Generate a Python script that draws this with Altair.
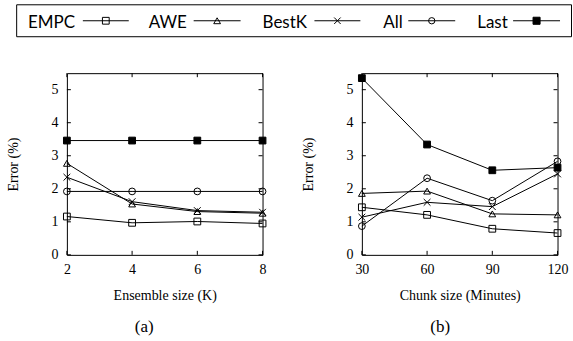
import altair as alt
import pandas as pd

# ---------------- data ----------------
series_names = ["EMPC", "AWE", "BestK", "All", "Last"]

ensemble_k = [2, 4, 6, 8]
err_a_empc = [1.16, 0.97, 1.01, 0.95]
err_a_awe = [2.77, 1.54, 1.31, 1.26]
err_a_bestk = [2.35, 1.61, 1.34, 1.29]
err_a_all = [1.92, 1.92, 1.92, 1.92]
err_a_last = [3.46, 3.46, 3.46, 3.46]

chunk_min = [30, 60, 90, 120]
err_b_empc = [1.44, 1.21, 0.79, 0.66]
err_b_awe = [1.86, 1.93, 1.24, 1.21]
err_b_bestk = [1.14, 1.59, 1.46, 2.45]
err_b_all = [0.87, 2.32, 1.64, 2.83]
err_b_last = [5.35, 3.34, 2.56, 2.64]

y_ticks = [0, 1, 2, 3, 4, 5]

# ---------------- styling ----------------
SERIF = "Liberation Serif"
SANS = "Lato"
X_PATH = "M-1,-1L1,1M-1,1L1,-1"
shapes = ["square", "triangle-up", X_PATH, "circle", "square"]
fills = ["transparent", "transparent", "transparent", "transparent", "black"]
sizes = [46, 46, 42, 40, 50]

W_A, W_B, H = 196, 196, 182
ORIGIN_A = (66, 72.5)  # absolute position of panel (a) plot area


def long_df(xs, cols):
    rows = []
    for name, vals in zip(series_names, cols):
        for x, v in zip(xs, vals):
            rows.append({"x": x, "err": v, "series": name})
    return pd.DataFrame(rows)


def one_row():
    return alt.Data(values=[{"k": 0}])


def panel(xs, cols, x_title, letter, width, letter_x, extra=None):
    df = long_df(xs, cols)
    xenc = alt.X(
        "x:Q",
        scale=alt.Scale(domain=[xs[0], xs[-1]], nice=False, zero=False),
        axis=alt.Axis(values=xs, title=x_title, labelPadding=8, titlePadding=12,
                      labelFlush=False, labelOverlap=False),
    )
    yenc = alt.Y(
        "err:Q",
        scale=alt.Scale(domain=[0, 5.5], nice=False),
        axis=alt.Axis(values=y_ticks, title="Error (%)", labelPadding=9,
                      titlePadding=30, labelFlush=False, labelOverlap=False),
    )
    base = alt.Chart(df)
    lines = base.mark_line(color="black", strokeWidth=1).encode(
        x=xenc, y=yenc, detail="series:N"
    )
    points = base.mark_point(color="black", strokeWidth=1, opacity=1).encode(
        x=xenc,
        y=yenc,
        shape=alt.Shape("series:N", scale=alt.Scale(domain=series_names, range=shapes), legend=None),
        fill=alt.Fill("series:N", scale=alt.Scale(domain=series_names, range=fills), legend=None),
        size=alt.Size("series:N", scale=alt.Scale(domain=series_names, range=sizes), legend=None),
    )
    xt = alt.Chart(pd.DataFrame({"x": xs, "err": [0] * len(xs)}))
    yt = alt.Chart(pd.DataFrame({"x": [xs[0]] * len(y_ticks), "err": y_ticks}))
    tick_layers = [
        xt.mark_rule(color="black", strokeWidth=1).encode(x=xenc, y=alt.value(H), y2=alt.value(H - 4)),
        xt.mark_rule(color="black", strokeWidth=1).encode(x=xenc, y=alt.value(0), y2=alt.value(4)),
        yt.mark_rule(color="black", strokeWidth=1).encode(y=yenc, x=alt.value(0), x2=alt.value(4)),
        yt.mark_rule(color="black", strokeWidth=1).encode(y=yenc, x=alt.value(width - 4), x2=alt.value(width)),
    ]
    lab = alt.Chart(one_row()).mark_text(
        text=letter, font=SERIF, fontSize=17, align="center", baseline="middle", color="black"
    ).encode(x=alt.value(letter_x), y=alt.value(254.5))
    layers = [lines, points] + tick_layers + [lab]
    if extra:
        layers += extra
    return alt.layer(*layers).properties(width=width, height=H)


# ---------------- legend (drawn inside panel a, positioned above it) ----------------
ox, oy = ORIGIN_A
legend_layers = []
legend_layers.append(
    alt.Chart(one_row()).mark_rect(fillOpacity=0, stroke="black", strokeWidth=1).encode(
        x=alt.value(15.7 - ox), x2=alt.value(571.5 - ox),
        y=alt.value(4 - oy), y2=alt.value(36 - oy),
    )
)
# spacer that pins the page origin (0,0)
legend_layers.append(
    alt.Chart(one_row()).mark_rect(opacity=0).encode(
        x=alt.value(-ox), x2=alt.value(-ox + 4), y=alt.value(-oy), y2=alt.value(-oy + 4)
    )
)
leg_text_x = [27, 148, 262, 383, 477]
leg_line_x = [(82, 128), (193, 240), (314, 360), (408, 455), (513, 560)]
for i, name in enumerate(series_names):
    legend_layers.append(
        alt.Chart(one_row()).mark_text(
            text=name, font=SANS, fontSize=17, align="left", baseline="alphabetic", color="black"
        ).encode(x=alt.value(leg_text_x[i] - ox), y=alt.value(27.5 - oy))
    )
    x1, x2 = leg_line_x[i]
    legend_layers.append(
        alt.Chart(one_row()).mark_rule(color="black", strokeWidth=1).encode(
            x=alt.value(x1 - ox), x2=alt.value(x2 - ox), y=alt.value(20 - oy)
        )
    )
    legend_layers.append(
        alt.Chart(one_row()).mark_point(
            shape=shapes[i], fill=fills[i], stroke="black", strokeWidth=1,
            size=sizes[i], opacity=1, filled=False,
        ).encode(x=alt.value((x1 + x2) / 2 - ox), y=alt.value(20 - oy))
    )

panel_a = panel(
    ensemble_k,
    [err_a_empc, err_a_awe, err_a_bestk, err_a_all, err_a_last],
    "Ensemble size (K)", "(a)", W_A, 143.5 - 66, extra=legend_layers,
)
panel_b = panel(
    chunk_min,
    [err_b_empc, err_b_awe, err_b_bestk, err_b_all, err_b_last],
    "Chunk size (Minutes)", "(b)", W_B, 440 - 361.5,
)

chart = (
    alt.hconcat(panel_a, panel_b, spacing=99.5, bounds="flush")
    .properties(padding=0, background="white")
    .configure_view(stroke="black", strokeWidth=1)
    .configure_axis(
        labelFont=SERIF, titleFont=SERIF, labelFontSize=14, titleFontSize=14,
        titleFontWeight="normal", labelColor="black", titleColor="black",
        domain=False, ticks=False, grid=False,
    )
)

chart.save("out.html", embed_options={"renderer": "svg", "actions": False})
